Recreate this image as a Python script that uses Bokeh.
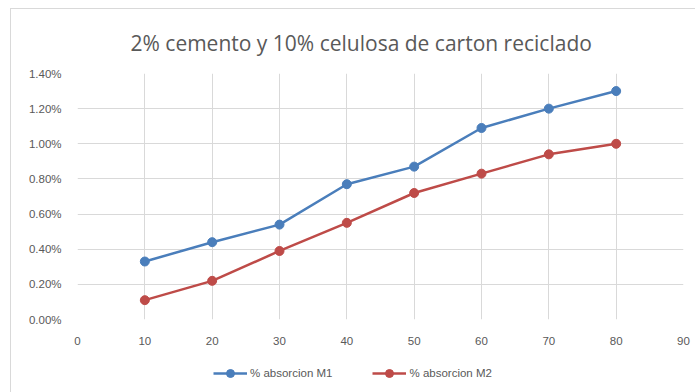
from bokeh.plotting import figure
from bokeh.layouts import column
from bokeh.models import (NumeralTickFormatter, Legend, LegendItem, FixedTicker,
                          Range1d)
from bokeh.embed import file_html
from bokeh.resources import INLINE

# Absorption results for each sample
edad = [10, 20, 30, 40, 50, 60, 70, 80]
absorcion_m1 = [0.0033, 0.0044, 0.0054, 0.0077, 0.0087, 0.0109, 0.0120, 0.0130]
absorcion_m2 = [0.0011, 0.0022, 0.0039, 0.0055, 0.0072, 0.0083, 0.0094, 0.0100]
series_names = ["% absorcion M1", "% absorcion M2"]
x_ticks = [0, 10, 20, 30, 40, 50, 60, 70, 80, 90]
y_ticks = [0.0, 0.002, 0.004, 0.006, 0.008, 0.010, 0.012, 0.014]

TEXT = "#595959"
GRID = "#d9d9d9"
BLUE = "#4a7ebb"
RED = "#be4b48"

p = figure(frame_width=606, frame_height=246, output_backend="svg",
           toolbar_location=None,
           x_range=Range1d(0, 90), y_range=Range1d(0, 0.014),
           min_border_left=66, min_border_right=12, min_border_top=64,
           min_border_bottom=0)

p.title.text = "2% cemento y 10% celulosa de carton reciclado"
p.title.align = "left"
p.title.text_font = "Open Sans"
p.title.text_font_size = "21px"
p.title.text_font_style = "normal"
p.title.text_color = TEXT
p.title.offset = 53
p.title.standoff = 34

p.outline_line_color = None
p.background_fill_color = "white"
p.border_fill_color = "white"

for ax in (p.xaxis, p.yaxis):
    ax.axis_line_color = None
    ax.major_tick_line_color = None
    ax.minor_tick_line_color = None
    ax.major_label_text_font = "Liberation Sans"
    ax.major_label_text_font_size = "11.5px"
    ax.major_label_text_color = TEXT

p.xaxis.ticker = FixedTicker(ticks=x_ticks)
p.yaxis.ticker = FixedTicker(ticks=y_ticks)
p.yaxis.formatter = NumeralTickFormatter(format="0.00%")
p.xaxis.major_label_standoff = 11
p.yaxis.major_label_standoff = 10

p.xgrid.grid_line_color = GRID
p.ygrid.grid_line_color = GRID

series = [(absorcion_m1, BLUE), (absorcion_m2, RED)]
for values, color in series:
    p.line(edad, values, line_color=color, line_width=2.5)
    p.scatter(edad, values, size=9, fill_color=color, line_color=color)

# legend strip under the chart; its ranges keep the series themselves out of view
lg = figure(frame_width=606, frame_height=49, output_backend="svg",
            toolbar_location=None, x_range=Range1d(0, 1), y_range=Range1d(0, 1),
            min_border_left=66, min_border_right=12, min_border_top=0,
            min_border_bottom=0)
lg.axis.visible = False
lg.grid.visible = False
lg.outline_line_color = None

items = []
for name, (values, color) in zip(series_names, series):
    ln = lg.line(edad, values, line_color=color, line_width=2.5)
    mk = lg.scatter(edad, values, size=9, fill_color=color, line_color=color)
    items.append(LegendItem(label=name, renderers=[ln, mk]))

legend = Legend(items=items, orientation="horizontal", location=(136, 13),
                label_text_font="Liberation Sans", label_text_font_size="11.5px",
                label_text_color=TEXT, border_line_color=None,
                background_fill_alpha=0, glyph_width=34, spacing=40,
                label_standoff=3, margin=0, padding=4)
lg.add_layout(legend, "center")

layout = column(p, lg, spacing=0,
                styles={"margin-left": "10px", "margin-top": "8px",
                        "border": "1px solid #d9d9d9"})

open("out.html", "w").write(file_html(layout, INLINE))
